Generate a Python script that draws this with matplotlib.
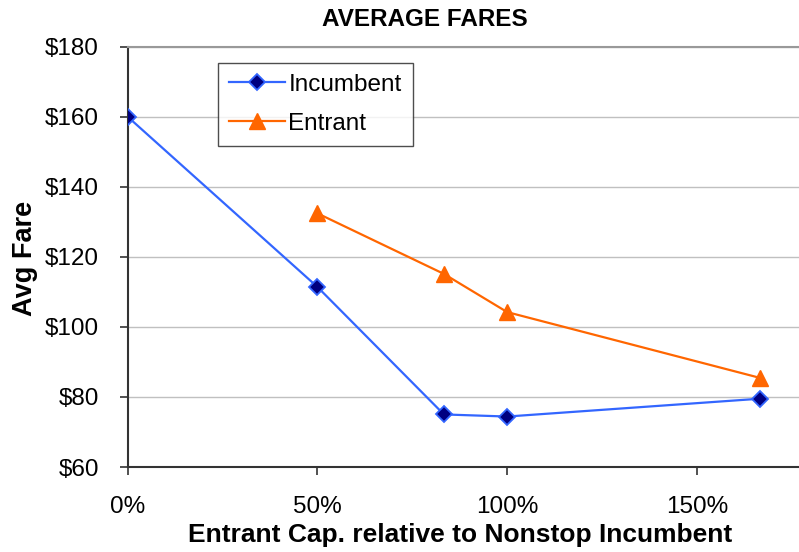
import matplotlib
matplotlib.use("Agg")
import matplotlib.pyplot as plt
from matplotlib.ticker import FuncFormatter, MultipleLocator

plt.rcParams['font.family'] = ['Liberation Sans', 'DejaVu Sans']

# Entrant capacity relative to nonstop incumbent (fraction)
incumbent_x = [0.0, 0.5, 0.8333, 1.0, 1.6667]
incumbent_fare = [160.0, 111.4, 75.0, 74.4, 79.5]

entrant_x = [0.5, 0.8333, 1.0, 1.6667]
entrant_fare = [132.4, 115.1, 104.2, 85.4]

x_ticks = [0.0, 0.5, 1.0, 1.5]

W, H = 799, 552
fig = plt.figure(figsize=(W / 100, H / 100), dpi=100)
left, right, top, bottom = 127.5, 811, 46.5, 467
ax = fig.add_axes([left / W, (H - bottom) / H, (right - left) / W, (bottom - top) / H])

ax.plot(incumbent_x, incumbent_fare, color='#3366FF', lw=1.6, marker='D',
        markersize=8, markerfacecolor='#000080', markeredgecolor='#3366FF',
        markeredgewidth=1.3, label='Incumbent', zorder=3)
ax.plot(entrant_x, entrant_fare, color='#FF6600', lw=1.6, marker='^',
        markersize=11, markerfacecolor='#FF6600', markeredgecolor='#FF6600',
        label='Entrant', zorder=3)

ax.set_xlim(0, 1.8)
ax.set_ylim(60, 180)
ax.set_xticks(x_ticks)
ax.xaxis.set_major_formatter(FuncFormatter(lambda v, p: f"{v * 100:.0f}%"))
ax.yaxis.set_major_locator(MultipleLocator(20))
ax.yaxis.set_major_formatter(FuncFormatter(lambda v, p: f"${v:.0f}"))

ax.grid(axis='y', color='#C0C0C0', lw=1.0)
ax.set_axisbelow(True)

for s in ['left', 'bottom']:
    ax.spines[s].set_color('#333333')
    ax.spines[s].set_linewidth(1.5)
ax.spines['right'].set_visible(False)
ax.spines['top'].set_color('#999999')
ax.spines['top'].set_linewidth(1.5)

ax.tick_params(axis='both', direction='out', length=6, width=1.2,
               color='#333333', labelsize=17.5)
ax.tick_params(axis='x', pad=15)
ax.tick_params(axis='y', pad=14.5)

fig.text(460 / W, 1 - 535 / H, 'Entrant Cap. relative to Nonstop Incumbent',
         ha='center', va='center', fontsize=19, fontweight='bold')
fig.text(25 / W, 1 - 258 / H, 'Avg Fare', ha='center', va='center',
         rotation=90, fontsize=19.5, fontweight='bold')
fig.text(425 / W, 1 - 20 / H, 'AVERAGE FARES', ha='center', va='center',
         fontsize=17.5, fontweight='bold')

leg = ax.legend(loc='upper left', bbox_to_anchor=(218 / W, 1 - 63 / H),
                bbox_transform=fig.transFigure, fontsize=17.5, frameon=True,
                fancybox=False, edgecolor='#222222', borderpad=0.45,
                handlelength=2.3, handletextpad=0.15, labelspacing=0.7,
                borderaxespad=0)
leg.get_frame().set_linewidth(1.0)

fig.savefig('out.png', dpi=100)
